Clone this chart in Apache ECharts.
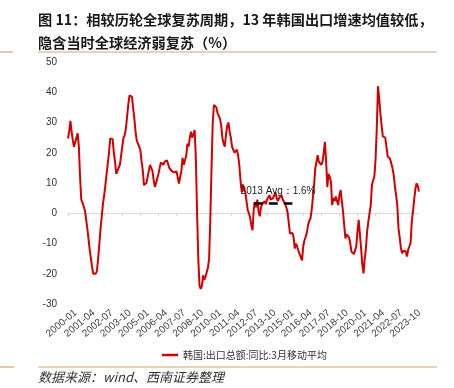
<!DOCTYPE html>
<html><head><meta charset="utf-8">
<script src="https://cdn.jsdelivr.net/npm/echarts@6/dist/echarts.min.js"></script>
<style>html,body{margin:0;padding:0;background:#fff}#c{width:454px;height:388px}</style>
</head><body><div id="c"></div>
<script>
// Monthly categories 2000-01 .. 2024-04
const startYear = 2000, monthCount = 292;
const categories = [];
for (let i = 0; i < monthCount; i++) {
  const y = startYear + Math.floor(i / 12), m = i % 12 + 1;
  categories.push(y + '-' + String(m).padStart(2, '0'));
}
const seriesName = '韩国:出口总额:同比:3月移动平均';
const koreaExportYoY3MMA = [
  24.7, 27, 30.5, 27, 24, 22, 23.5, 25, 26.4, 22, 12, 4.5,
  3.5, 3, 1, -2, -5, -8.5, -12, -15, -18, -20, -19.5, -20,
  -19, -15, -10, -5, -1, 3.2, 6, 9.3, 13, 16.5, 20, 24.7,
  25, 24.5, 20, 17, 13, 14, 13.5, 16, 19, 22, 25, 25.8,
  28, 32, 36, 39, 38.8, 38.5, 38.7, 31.3, 27, 24, 23.6, 22,
  20.9, 17, 14.2, 9.3, 9.5, 10, 12, 14, 16, 15.5, 14, 11,
  8.7, 10, 11.5, 13, 15, 16.8, 16.5, 16, 17, 16.9, 17.5, 17,
  15, 14.5, 13.9, 14, 13.5, 13.5, 13.8, 14, 9.8, 12, 14, 18.3,
  16, 16.5, 19, 23, 22, 25, 27, 25, 26, 27.5, 18, 0.4,
  -15, -23.8, -25, -24, -20.5, -22, -21, -19.5, -18, -15, -1.8, 15,
  30, 35.8, 36.3, 35, 33, 33.5, 31.3, 29, 25, 23, 22, 26,
  29, 30, 27, 25, 22, 21, 20, 20.5, 21, 19.2, 16, 11,
  7, 9.5, 8, 7, 4, 1, 0, -1.5, -4, -5.6, 1.5, 3.7,
  2, 4.5, 0.5, -1, 2, 3, 3.5, 4, 3, 4.5, 5, 6,
  4.5, 4, 5, 5.5, 7, 5, 4, 5, 5.5, 6, 4.5, 4,
  3.2, 2, 0.4, -3, -6.7, -6.2, -6.5, -7.8, -11.7, -10, -11, -12.3,
  -13.5, -14, -15.6, -11, -9, -7.8, -6.5, -4, -2.5, -1.8, 1, 5,
  9.3, 14.8, 17, 19.2, 17, 16.5, 16, 17, 20, 23.6, 17, 8.7,
  13, 12, 10.5, 2.7, 5, 4, 5.5, 6, 2.7, 6, 7.7, 8.3,
  0.6, -4, -8.3, -7, -7.2, -8, -10, -12.7, -13, -13.5, -13.8, -11,
  -6, -2.2, -2, -11.6, -17, -19.9, -15, -11.6, -6, -2.8, 0, 2.7,
  9.4, 11, 12.1, 18, 28, 42, 38, 33, 29, 25.4, 25.2, 25,
  22, 18.8, 18.5, 18, 17.7, 15, 12.7, 9, 6, 2.7, -5, -8,
  -11.6, -13.2, -12.5, -12, -12.6, -14.3, -12, -11, -9.9, -2.8, 0.5, 4.5,
  8, 9.9, 9, 7.2
];
const avgLabel = '2013 Avg：1.6%';
const avgLevel = 3.3;
const avgStart = '2012-11', avgEnd = '2015-07';
const yMin = -30, yMax = 50, yInterval = 10;
const labelEvery = 15;

const titleText = '图 11：相较历轮全球复苏周期，13 年韩国出口增速均值较低，\n隐含当时全球经济弱复苏（%）';
const sourceText = '数据来源：wind、西南证券整理';

const chart = echarts.init(document.getElementById('c'), null, {renderer: 'canvas'});
const ruleColor = '#cfa86e';
chart.setOption({
  animation: false,
  backgroundColor: '#fff',
  title: {
    text: titleText, left: 33, top: 3,
    textStyle: {fontFamily: 'Noto Sans CJK SC', fontWeight: 'bold', fontSize: 14.2, color: '#1a1a1a', lineHeight: 23}
  },
  graphic: [
    {type: 'line', shape: {x1: 38, y1: 52, x2: 437, y2: 52}, style: {stroke: ruleColor, lineWidth: 1.2}},
    {type: 'line', shape: {x1: 0, y1: 52, x2: 13, y2: 52}, style: {stroke: ruleColor, lineWidth: 1.2}},
    {type: 'line', shape: {x1: 38, y1: 367, x2: 437, y2: 367}, style: {stroke: ruleColor, lineWidth: 1.2}},
    {type: 'line', shape: {x1: 0, y1: 367, x2: 14, y2: 367}, style: {stroke: ruleColor, lineWidth: 1.2}},
    {type: 'text', left: 38, top: 371, style: {text: sourceText, font: 'italic 13px "Noto Sans CJK SC"', fill: '#333'}}
  ],
  legend: {
    data: [seriesName], left: 157, top: 345, icon: 'rect', itemWidth: 16, itemHeight: 2.5, itemGap: 3,
    textStyle: {fontFamily: 'Noto Sans CJK SC', fontSize: 10, color: '#333', padding: [0, 0, 0, 0]}
  },
  grid: {left: 68, right: 35, top: 62, bottom: 84},
  xAxis: [
    {
      type: 'category', data: categories, boundaryGap: false, position: 'bottom',
      axisLine: {show: false, onZero: false}, axisTick: {show: false},
      axisLabel: {interval: labelEvery - 1, rotate: 40, fontSize: 10, color: '#404040', margin: 14,
        padding: [0, -10, 0, 0], fontFamily: 'Liberation Sans'}
    },
    {
      type: 'category', data: categories, boundaryGap: false, position: 'bottom',
      axisLine: {show: true, onZero: true, lineStyle: {color: '#d9d9d9', width: 1}},
      axisTick: {show: true, interval: labelEvery - 1, length: 3, lineStyle: {color: '#d9d9d9'}},
      axisLabel: {show: false}
    }
  ],
  yAxis: {
    type: 'value', min: yMin, max: yMax, interval: yInterval,
    axisLine: {show: false}, axisTick: {show: false}, splitLine: {show: false},
    axisLabel: {fontSize: 10, color: '#333', margin: 11, fontFamily: 'Liberation Sans'}
  },
  series: [{
    name: seriesName, type: 'line', data: koreaExportYoY3MMA, symbol: 'none',
    lineStyle: {color: '#d40000', width: 2}, itemStyle: {color: '#d40000'},
    markLine: {
      silent: true, symbol: 'none',
      lineStyle: {color: '#000', width: 2.5, type: [9, 6]},
      label: {show: true, position: 'insideMiddleTop', formatter: avgLabel, distance: 7,
        fontSize: 10, color: '#222', fontFamily: 'Liberation Sans', padding: [0, 0, 0, 10]},
      data: [[{coord: [avgStart, avgLevel]}, {coord: [avgEnd, avgLevel]}]]
    }
  }]
});
</script></body></html>
